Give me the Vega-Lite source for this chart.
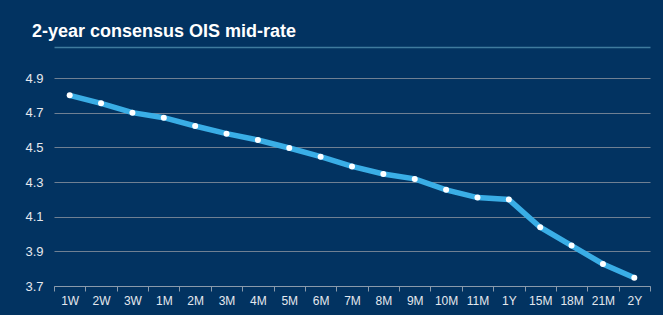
{
  "$schema": "https://vega.github.io/schema/vega-lite/v6.json",
  "width": 596,
  "height": 208,
  "autosize": {"type": "none"},
  "padding": {"left": 54, "top": 78, "right": 13, "bottom": 29},
  "background": "#023361",
  "title": {
    "text": "2-year consensus OIS mid-rate",
    "anchor": "start",
    "dx": 7,
    "offset": -8,
    "baseline": "alphabetic",
    "font": "Liberation Sans",
    "fontSize": 18,
    "fontWeight": "bold",
    "color": "#ffffff"
  },
  "config": {
    "view": {"stroke": null},
    "font": "Liberation Sans"
  },
  "data": {
    "values": [
      {"tenor": "1W", "rate": 4.80},
      {"tenor": "2W", "rate": 4.754},
      {"tenor": "3W", "rate": 4.70},
      {"tenor": "1M", "rate": 4.671},
      {"tenor": "2M", "rate": 4.623},
      {"tenor": "3M", "rate": 4.579},
      {"tenor": "4M", "rate": 4.542},
      {"tenor": "5M", "rate": 4.496},
      {"tenor": "6M", "rate": 4.446},
      {"tenor": "7M", "rate": 4.39},
      {"tenor": "8M", "rate": 4.346},
      {"tenor": "9M", "rate": 4.318},
      {"tenor": "10M", "rate": 4.255},
      {"tenor": "11M", "rate": 4.21},
      {"tenor": "1Y", "rate": 4.199},
      {"tenor": "15M", "rate": 4.039},
      {"tenor": "18M", "rate": 3.933},
      {"tenor": "21M", "rate": 3.827},
      {"tenor": "2Y", "rate": 3.748}
    ]
  },
  "layer": [
    {
      "mark": {
        "type": "line", "color": "#3AAEE6", "strokeWidth": 5.5, "interpolate": "linear",
        "point": {"filled": true, "fill": "#ffffff", "color": "#ffffff", "opacity": 1, "size": 36}
      },
      "encoding": {
        "x": {
          "field": "tenor", "type": "ordinal", "sort": null,
          "scale": {"type": "band", "paddingInner": 0, "paddingOuter": 0},
          "axis": {
            "title": null, "labelAngle": 0, "tickBand": "extent",
            "domainColor": "#8a9aab", "tickColor": "#8a9aab", "tickSize": 5,
            "labelColor": "#e4e8ee", "labelFontSize": 12, "labelPadding": 4,
            "grid": false
          }
        },
        "y": {
          "field": "rate", "type": "quantitative",
          "scale": {"domain": [3.7, 4.9], "nice": false, "zero": false},
          "axis": {
            "title": null, "values": [3.7, 3.9, 4.1, 4.3, 4.5, 4.7, 4.9],
            "format": ".1f", "domain": false, "ticks": false, "labelOverlap": false,
            "labelColor": "#e4e8ee", "labelFontSize": 13, "labelPadding": 11,
            "gridColor": "#6f8093", "gridWidth": 1.2
          }
        }
      }
    },
    {
      "mark": {"type": "point", "opacity": 0},
      "encoding": {
        "x": {
          "field": "tenor", "type": "ordinal", "sort": null,
          "axis": {
            "orient": "top", "title": null, "labels": false, "ticks": false,
            "grid": false, "offset": 31, "domainColor": "#3f7b9e", "domainWidth": 1.5
          }
        }
      }
    }
  ],
  "resolve": {"axis": {"x": "independent"}}
}
